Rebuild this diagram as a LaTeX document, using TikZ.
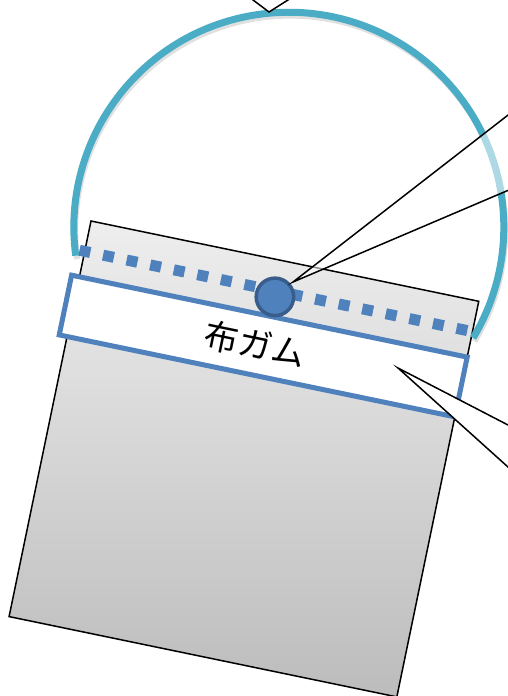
\documentclass[tikz,border=0pt]{standalone}
\usepackage{fontspec}
\newfontfamily\cjk{Noto Sans CJK JP}
\definecolor{bagtop}{RGB}{238, 238, 238}
\definecolor{bagbottom}{RGB}{188, 188, 188}
\definecolor{tag}{RGB}{79, 129, 189}
\definecolor{tagdark}{RGB}{56, 93, 138}
\definecolor{strap}{RGB}{75, 172, 198}
\newcommand*{\tilt}{-11.7}
\newcommand*{\reach}{215}

\begin{document}
\begin{tikzpicture}[x=1pt, y=-1pt, line join=miter]
  \clip (0, 0) rectangle (508, 696);

  \begin{scope}[shift={(91, 221)}, rotate=\tilt]
    \draw [top color=bagtop, bottom color=bagbottom, line width=1.5pt] (0, 0) rectangle +(396, 404);

    \draw [tag, line width=11pt, dash pattern=on 11pt off 13.06pt] (-5.3, 31) -- (391, 31);

    \draw [tag, line width=5pt, fill=white] (-8, 57) rectangle +(404, 61);
    \node [transform shape, font=\cjk\fontsize{34}{40}\selectfont] (tagtext) at (186, 87) {布ガム};

    \node [circle, draw=tagdark, fill=tag, line width=3.5pt, minimum size=37.5pt, inner sep=0pt]
      (snap) at (195.5, 37) {};

    \draw [black, opacity=0.12, line width=6pt] (197, -31) ++(160.7:\reach)
      arc [start angle=160.7, end angle=379.3, radius=\reach];
    \draw [strap, line width=7pt] (195, -34) ++(160.7:\reach)
      arc [start angle=160.7, end angle=379.3, radius=\reach];
  \end{scope}

  \coordinate (tipsnap) at (293, 282);
  \coordinate (tiptag) at (398, 368);
  \coordinate (tipstrap) at (269, 12);

  \fill [white, opacity=0.55] (tipsnap) -- (530, 98) -- (530, 181) -- cycle;
  \draw [line width=1.5pt] (530, 98) -- (tipsnap) -- (530, 181);

  \fill [white] (tiptag) -- (530, 436.4) -- (530, 486.8) -- cycle;
  \draw [line width=1.5pt] (530, 436.4) -- (tiptag) -- (530, 486.8);

  \fill [white] (tipstrap) -- (239.7, -10) -- (303.8, -10) -- cycle;
  \draw [line width=1.5pt] (239.7, -10) -- (tipstrap) -- (303.8, -10);
\end{tikzpicture}
\end{document}
